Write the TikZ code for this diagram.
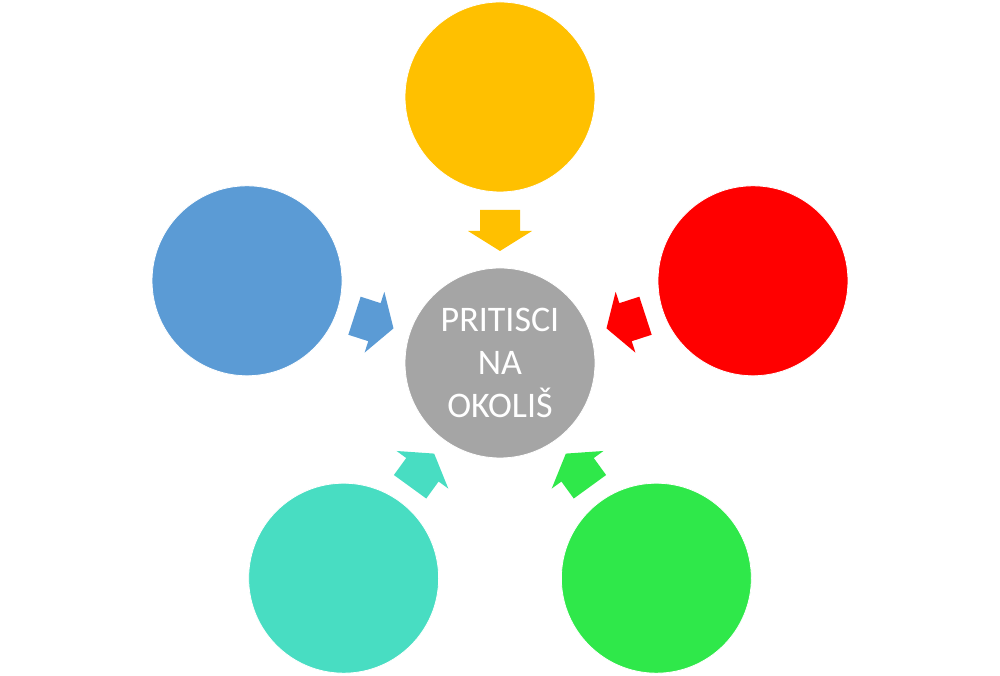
\documentclass[tikz,border=0pt]{standalone}
\usepackage{fontspec}
\setmainfont{Carlito}
\usetikzlibrary{calc}
\definecolor{cyellow}{HTML}{FFC000}
\definecolor{cblue}{HTML}{5B9BD5}
\definecolor{cred}{HTML}{FF0000}
\definecolor{cteal}{HTML}{48DDC2}
\definecolor{cgreen}{HTML}{2FE84A}
\definecolor{cgray}{HTML}{A5A5A5}
\tikzset{
  disc/.style={circle, minimum size=190pt, inner sep=0pt, draw=white, line width=0.8pt},
  centertext/.style={text=white, align=center, font=\fontsize{36}{43}\selectfont},
}
\begin{document}
\begin{tikzpicture}[x=1pt,y=1pt]
\useasboundingbox (0,0) rectangle (1000,676);
\coordinate (C) at (500,313);
\node[disc, fill=cgray, centertext] (center) at (C) {PRITISCI\\NA\\OKOLIŠ};
\foreach \ang/\col/\nm in {90/cyellow/top,162/cblue/left,18/cred/right,234/cteal/bleft,306/cgreen/bright}{
  \node[disc, fill=\col] (\nm) at ($(C)+(\ang:266)$) {};
  \begin{scope}[shift={(C)}, rotate=\ang]
    \fill[\col] (153,20) -- (132,20) -- (132,32) -- (112,0) -- (132,-32) -- (132,-20) -- (153,-20) -- cycle;
  \end{scope}
}
\end{tikzpicture}
\end{document}
